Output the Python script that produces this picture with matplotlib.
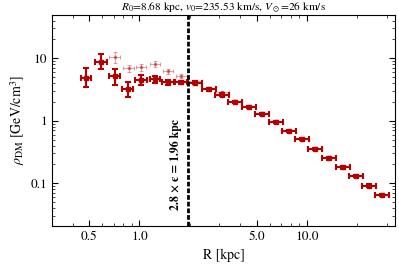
import numpy as np
import matplotlib
matplotlib.use('Agg')
import matplotlib.pyplot as plt
from matplotlib.ticker import FixedLocator, FixedFormatter, LogLocator, NullFormatter

plt.rcParams['font.family'] = ['STIXGeneral', 'DejaVu Serif']
plt.rcParams['mathtext.fontset'] = 'stix'

# main profile (dark red)
R = [0.48, 0.59, 0.71, 0.85, 1.02, 1.24, 1.48, 1.78, 2.15, 2.59, 3.11, 3.71, 4.49,
     5.40, 6.49, 7.80, 9.33, 11.2, 13.5, 16.3, 19.5, 23.5, 28.0]
rho = [4.9, 8.6, 5.2, 3.2, 4.5, 4.6, 4.1, 4.15, 4.05, 3.19, 2.62, 2.0, 1.68,
       1.30, 0.97, 0.687, 0.506, 0.35, 0.251, 0.18, 0.131, 0.0917, 0.065]
rho_lo = [3.5, 6.7, 3.7, 2.4, 3.7, 4.0, 3.8, 3.9, 3.85, 3.05, 2.5, 1.92, 1.61,
          1.25, 0.93, 0.66, 0.485, 0.335, 0.24, 0.172, 0.125, 0.0875, 0.062]
rho_hi = [6.9, 11.5, 6.8, 4.2, 5.4, 5.2, 4.5, 4.4, 4.25, 3.33, 2.74, 2.08, 1.75,
          1.35, 1.01, 0.715, 0.527, 0.365, 0.262, 0.188, 0.137, 0.096, 0.068]
dex_half = [0.03, 0.034, 0.034, 0.034, 0.034, 0.03, 0.034, 0.036, 0.04, 0.042, 0.042,
            0.042, 0.042, 0.042, 0.042, 0.042, 0.042, 0.042, 0.042, 0.042, 0.042, 0.042, 0.042]

# second profile (light)
R2 = [0.71, 0.86, 1.02, 1.24, 1.48, 1.78, 2.15, 2.59, 3.11, 3.71, 4.49, 5.40,
      6.49, 7.80, 9.33, 11.2, 13.5, 16.3, 19.5, 23.5, 28.0]
rho2 = [10.5, 6.9, 7.2, 8.2, 6.2, 5.25, 4.3, 3.3, 2.9, 2.05, 1.72, 1.33,
        0.99, 0.70, 0.51, 0.355, 0.265, 0.183, 0.133, 0.093, 0.066]
rho2_lo = [8.4, 6.0, 6.3, 7.3, 5.6, 4.8, 4.1, 3.15, 2.78, 1.97, 1.65, 1.28,
           0.95, 0.675, 0.49, 0.342, 0.255, 0.176, 0.128, 0.089, 0.063]
rho2_hi = [12.8, 7.9, 8.2, 9.2, 6.8, 5.7, 4.5, 3.45, 3.02, 2.13, 1.79, 1.38,
           1.03, 0.725, 0.53, 0.368, 0.275, 0.19, 0.138, 0.097, 0.069]
dex_half2 = [0.032] * 6 + [0.042] * 15

R_cut = 1.96

R = np.array(R); rho = np.array(rho)
R2 = np.array(R2); rho2 = np.array(rho2)
dh = np.array(dex_half); dh2 = np.array(dex_half2)

fig = plt.figure(figsize=(3.99, 2.72), dpi=100)
ax = fig.add_axes([0.130, 0.169, 0.860, 0.776])

col = '#b30000'
ax.errorbar(R2, rho2,
            xerr=[R2 - R2 * 10**(-dh2), R2 * 10**dh2 - R2],
            yerr=[rho2 - np.array(rho2_lo), np.array(rho2_hi) - rho2],
            fmt='s', ms=2, color=col, alpha=0.35, elinewidth=0.8, capsize=1.5,
            capthick=0.8, zorder=2)
ax.errorbar(R, rho,
            xerr=[R - R * 10**(-dh), R * 10**dh - R],
            yerr=[rho - np.array(rho_lo), np.array(rho_hi) - rho],
            fmt='s', ms=3, color=col, elinewidth=1.5, capsize=2,
            capthick=1.5, zorder=3)

ax.axvline(R_cut, color='black', lw=2.0, ls=(0, (1.7, 0.7)), zorder=4)
ax.text(1.64, 0.2, '2.8 × ϵ = 1.96 kpc', rotation=90, ha='center', va='center',
        fontsize=8.5, fontweight='bold')

ax.set_xscale('log')
ax.set_yscale('log')
ax.set_xlim(0.30, 33.5)
ax.set_ylim(0.0207, 49.3)

xt = [0.5, 1.0, 5.0, 10.0]
ax.xaxis.set_major_locator(FixedLocator(xt))
ax.xaxis.set_major_formatter(FixedFormatter(['0.5', '1.0', '5.0', '10.0']))
ax.xaxis.set_minor_locator(FixedLocator([0.3, 0.4, 0.6, 0.7, 0.8, 0.9, 2, 3, 4,
                                         6, 7, 8, 9, 20, 30]))
ax.xaxis.set_minor_formatter(NullFormatter())
ax.yaxis.set_major_locator(FixedLocator([0.1, 1, 10]))
ax.yaxis.set_major_formatter(FixedFormatter(['0.1', '1', '10']))
ax.yaxis.set_minor_locator(LogLocator(base=10, subs=np.arange(2, 10)))
ax.yaxis.set_minor_formatter(NullFormatter())

ax.tick_params(which='both', direction='in', top=True, right=True, labelsize=9.5)
ax.tick_params(which='major', length=4, width=0.8)
ax.tick_params(which='minor', length=2, width=0.5)
for s in ax.spines.values():
    s.set_linewidth(0.8)

ax.set_xlabel('R [kpc]', fontsize=10)
ax.set_ylabel(r'$\rho_{\rm DM}$ [GeV/cm$^3$]', fontsize=10, labelpad=2)
ax.set_title(r'$R_0$=8.68 kpc, $v_0$=235.53 km/s, $V_\odot$=26 km/s',
             fontsize=8.2, pad=3)

fig.savefig('out.png', dpi=100)
